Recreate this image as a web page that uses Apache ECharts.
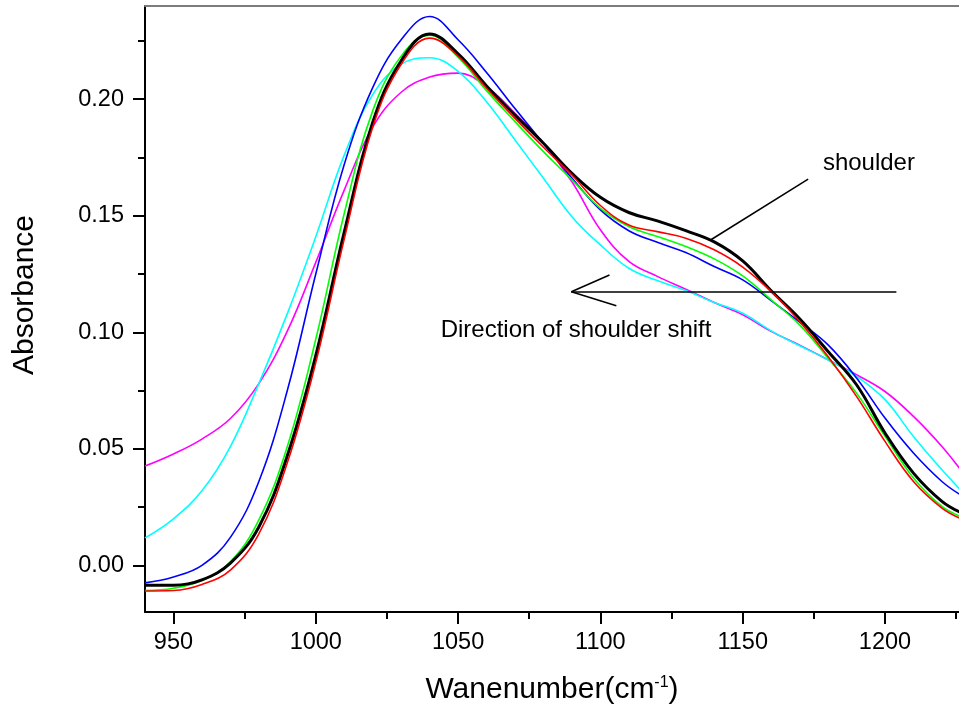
<!DOCTYPE html>
<html>
<head>
<meta charset="utf-8">
<script src="https://cdn.jsdelivr.net/npm/echarts@6/dist/echarts.min.js"></script>
<style>
  html, body { margin: 0; padding: 0; background: #fff; }
  #chart { width: 959px; height: 715px; }
</style>
</head>
<body>
<div id="chart"></div>
<script>
// wavenumber samples (cm-1)
const wavenumbers = [940, 950, 960, 970, 980, 990, 1000, 1010, 1020, 1030, 1040, 1050, 1060, 1070, 1080,
  1090, 1100, 1110, 1120, 1130, 1140, 1150, 1160, 1170, 1180, 1190, 1200, 1210, 1220, 1227];

// absorbance curves
const blackCurve = [-0.0085, -0.0085, -0.0062, 0.001, 0.0165, 0.047, 0.090, 0.143, 0.190, 0.2165, 0.228, 0.2195,
  0.2057, 0.1932, 0.1811, 0.1682, 0.1579, 0.1514, 0.1478, 0.1436, 0.1388, 0.1306, 0.1178, 0.1058, 0.0918, 0.0775,
  0.0568, 0.0396, 0.0275, 0.0225];
const redCurve = [-0.011, -0.0108, -0.0082, -0.002, 0.0135, 0.044, 0.087, 0.140, 0.188, 0.215, 0.2262, 0.2185,
  0.2047, 0.1918, 0.1794, 0.1675, 0.1544, 0.146, 0.1432, 0.1404, 0.1354, 0.128, 0.1175, 0.1046, 0.0896, 0.0725,
  0.0532, 0.036, 0.0246, 0.0199];
const greenCurve = [-0.0108, -0.0098, -0.0065, 0.0015, 0.0195, 0.051, 0.097, 0.151, 0.195, 0.2185, 0.2275, 0.218,
  0.2037, 0.1904, 0.1775, 0.1654, 0.1532, 0.1454, 0.1411, 0.1368, 0.1315, 0.1242, 0.1139, 0.1032, 0.0889, 0.0739,
  0.0554, 0.0375, 0.0253, 0.0208];
const blueCurve = [-0.0075, -0.005, 0.0, 0.012, 0.036, 0.075, 0.125, 0.172, 0.205, 0.2255, 0.2355, 0.2255,
  0.2115, 0.196, 0.181, 0.1662, 0.1525, 0.1436, 0.1386, 0.1342, 0.1282, 0.1225, 0.1136, 0.1044, 0.0946, 0.0804,
  0.0632, 0.0482, 0.036, 0.0299];
const cyanCurve = [0.0118, 0.020, 0.032, 0.051, 0.078, 0.108, 0.141, 0.176, 0.202, 0.215, 0.2178, 0.212,
  0.1989, 0.1825, 0.1661, 0.1496, 0.1375, 0.1275, 0.1222, 0.1179, 0.1128, 0.1082, 0.1006, 0.0942, 0.0882, 0.0811,
  0.0711, 0.0553, 0.041, 0.0318];
const magentaCurve = [0.0426, 0.0478, 0.0542, 0.063, 0.078, 0.1005, 0.130, 0.161, 0.188, 0.203, 0.2095, 0.2112,
  0.2054, 0.194, 0.1811, 0.1646, 0.144, 0.1304, 0.124, 0.1185, 0.1128, 0.1075, 0.1004, 0.0945, 0.0882, 0.0818,
  0.0746, 0.0639, 0.051, 0.0403];

// ticks
const xMajorTicks = [950, 1000, 1050, 1100, 1150, 1200];
const xMinorTicks = [975, 1025, 1075, 1125, 1175, 1225];
const yMajorTicks = [0, 0.05, 0.10, 0.15, 0.20];
const yMinorTicks = [0.025, 0.075, 0.125, 0.175, 0.225];

// annotations (data coordinates)
const shoulderPointer = [[1173, 0.1657], [1138.7, 0.1396]];
const shiftArrow = [[1204, 0.1174], [1089.8, 0.1174]];
const arrowHeadUpper = [[1089.8, 0.1174], [1103.2, 0.1246]];
const arrowHeadLower = [[1089.8, 0.1174], [1105.6, 0.1114]];
const shoulderLabelAt = [1178, 0.1726];
const shiftLabelAt = [1043.7, 0.101];

const FONT = "'Liberation Sans', Arial, sans-serif";
const X_MIN = 940, X_MAX = 1226, Y_MIN = -0.02, Y_MAX = 0.24;

const chart = echarts.init(document.getElementById("chart"), null, { renderer: "canvas" });

function curve(name, values, color, width) {
  return {
    name,
    type: "line",
    xAxisIndex: 0,
    yAxisIndex: 0,
    data: wavenumbers.map((w, i) => [w, values[i]]),
    smooth: 0.4,
    symbol: "none",
    lineStyle: { color, width },
    itemStyle: { color },
  };
}

const annotationLine = (pair) => [{ coord: pair[0] }, { coord: pair[1] }];

const blackSeries = curve("black", blackCurve, "#000000", 3);
blackSeries.markLine = {
  silent: true,
  symbol: ["none", "none"],
  label: { show: false },
  lineStyle: { color: "#000", width: 1.5, type: "solid" },
  data: [shoulderPointer, shiftArrow, arrowHeadUpper, arrowHeadLower].map(annotationLine),
};
blackSeries.markPoint = {
  silent: true,
  symbol: "circle",
  symbolSize: 1,
  itemStyle: { color: "rgba(0,0,0,0)" },
  label: { show: true, position: "right", distance: 0, color: "#000", fontSize: 24, fontFamily: FONT },
  data: [
    { coord: shoulderLabelAt, label: { formatter: "shoulder" } },
    { coord: shiftLabelAt, label: { formatter: "Direction of shoulder shift" } },
  ],
};

const rect = { left: 145, top: 6, right: 0, bottom: 103, outerBoundsMode: "none" };

chart.setOption({
  animation: false,
  backgroundColor: "#fff",
  grid: [rect, Object.assign({}, rect)],
  xAxis: [
    {
      gridIndex: 0, type: "value", position: "bottom", min: X_MIN, max: X_MAX,
      axisLine: { onZero: false, lineStyle: { color: "#000", width: 2 } },
      axisTick: { inside: false, length: 12, lineStyle: { color: "#000", width: 2 }, customValues: xMajorTicks },
      axisLabel: {
        customValues: xMajorTicks, margin: 19, color: "#000", fontSize: 23.5, fontFamily: FONT,
        formatter: (v) => String(v),
      },
      splitLine: { show: false },
      name: "{a|Wanenumber(cm}{s|-1}{a|)}",
      nameLocation: "middle",
      nameGap: 63,
      nameTextStyle: {
        rich: {
          a: { fontSize: 30, fontFamily: FONT, color: "#000" },
          s: { fontSize: 16, fontFamily: FONT, color: "#000", verticalAlign: "top", padding: [0, 0, 12, 0] },
        },
      },
    },
    {
      gridIndex: 1, type: "value", position: "bottom", min: X_MIN, max: X_MAX,
      axisLine: { show: false, onZero: false },
      axisTick: { length: 7, lineStyle: { color: "#000", width: 2 }, customValues: xMinorTicks },
      axisLabel: { show: false, customValues: xMinorTicks },
      splitLine: { show: false },
    },
    {
      gridIndex: 0, type: "value", position: "top", min: X_MIN, max: X_MAX,
      axisLine: { onZero: false, lineStyle: { color: "#7c7c7c", width: 2 } },
      axisTick: { show: false },
      axisLabel: { show: false },
      splitLine: { show: false },
    },
  ],
  yAxis: [
    {
      gridIndex: 0, type: "value", position: "left", min: Y_MIN, max: Y_MAX,
      axisLine: { show: true, onZero: false, lineStyle: { color: "#000", width: 2 } },
      axisTick: { show: true, length: 12, lineStyle: { color: "#000", width: 2 }, customValues: yMajorTicks },
      axisLabel: {
        customValues: yMajorTicks, margin: 21, color: "#000", fontSize: 23.5, fontFamily: FONT,
        formatter: (v) => v.toFixed(2),
      },
      splitLine: { show: false },
      name: "Absorbance",
      nameLocation: "middle",
      nameGap: 105,
      nameTextStyle: { fontSize: 30, fontFamily: FONT, color: "#000", padding: [0, 0, 0, 28] },
    },
    {
      gridIndex: 1, type: "value", position: "left", min: Y_MIN, max: Y_MAX,
      axisLine: { show: false, onZero: false },
      axisTick: { show: true, length: 7, lineStyle: { color: "#000", width: 2 }, customValues: yMinorTicks },
      axisLabel: { show: false, customValues: yMinorTicks },
      splitLine: { show: false },
    },
  ],
  series: [
    curve("magenta", magentaCurve, "#ff00ff", 1.6),
    curve("cyan", cyanCurve, "#00ffff", 1.6),
    curve("blue", blueCurve, "#0000ff", 1.6),
    curve("green", greenCurve, "#00ff00", 1.6),
    blackSeries,
    curve("red", redCurve, "#ff0000", 1.6),
  ],
});
</script>
</body>
</html>
